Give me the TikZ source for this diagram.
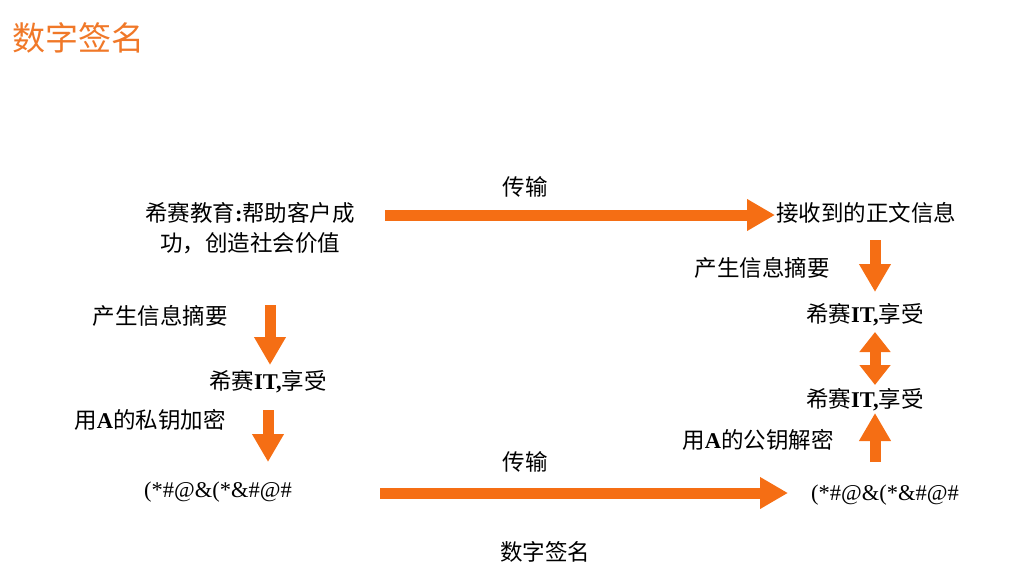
\documentclass[tikz,border=0pt]{standalone}
\usepackage{fontspec}
\setmainfont{Liberation Serif}
\newfontfamily\cjk{Noto Sans CJK SC}
\usetikzlibrary{arrows.meta}
\definecolor{arr}{RGB}{245,110,20}
\definecolor{ttl}{RGB}{240,120,40}
\tikzset{
  txt/.style={font=\cjk\fontsize{22.5}{30}\selectfont, inner sep=0pt},
  fat/.style={line width=11pt, draw=arr, -{Triangle[width=30pt,length=28pt]}},
  fatboth/.style={line width=11pt, draw=arr, {Triangle[width=30pt,length=20pt]}-{Triangle[width=30pt,length=20pt]}},
}
\newcommand{\lat}[1]{{\fontspec{Liberation Serif}\bfseries #1}}
\begin{document}
\begin{tikzpicture}[x=1pt,y=-1pt]
\useasboundingbox (0,0) rectangle (1034,578);
\node[txt, font=\cjk\fontsize{33}{38}\selectfont, text=ttl, anchor=west] (title) at (12,38) {数字签名};
\node[txt, align=center] (msg) at (250,228) {希赛教育\lat{:}帮助客户成\\功，创造社会价值};
\node[txt, anchor=west] (recv) at (776,213) {接收到的正文信息};
\node[txt] (t1) at (525,187) {传输};
\node[txt] (t2) at (525,462) {传输};
\node[txt] (sig) at (545,552) {数字签名};
\node[txt] (gl) at (160,316) {产生信息摘要};
\node[txt] (hl) at (268,382) {希赛\lat{IT,}享受};
\node[txt] (el) at (150,420) {用\lat{A}的私钥加密};
\node[txt, font=\lat{}\fontsize{22.5}{26}\selectfont] (cl) at (218,492) {(*\#@\&(*\&\#@\#};
\node[txt] (gr) at (762,268) {产生信息摘要};
\node[txt] (hr1) at (865,315) {希赛\lat{IT,}享受};
\node[txt] (hr2) at (865,400) {希赛\lat{IT,}享受};
\node[txt] (dr) at (758,440) {用\lat{A}的公钥解密};
\node[txt, font=\lat{}\fontsize{22.5}{26}\selectfont] (cr) at (885,495) {(*\#@\&(*\&\#@\#};
\coordinate (a1s) at (385,215); \coordinate (a1e) at (775,215);
\coordinate (a2s) at (380,493); \coordinate (a2e) at (788,493);
\draw[fat] (a1s) -- (a1e);
\draw[fat] (a2s) -- (a2e);
\draw[fat] (270,305) -- (270,365);
\draw[fat] (268,410) -- (268,462);
\draw[fat] (875,240) -- (875,292);
\draw[fatboth] (875,332) -- (875,385);
\draw[fat] (875,462) -- (875,413);
\end{tikzpicture}
\end{document}
